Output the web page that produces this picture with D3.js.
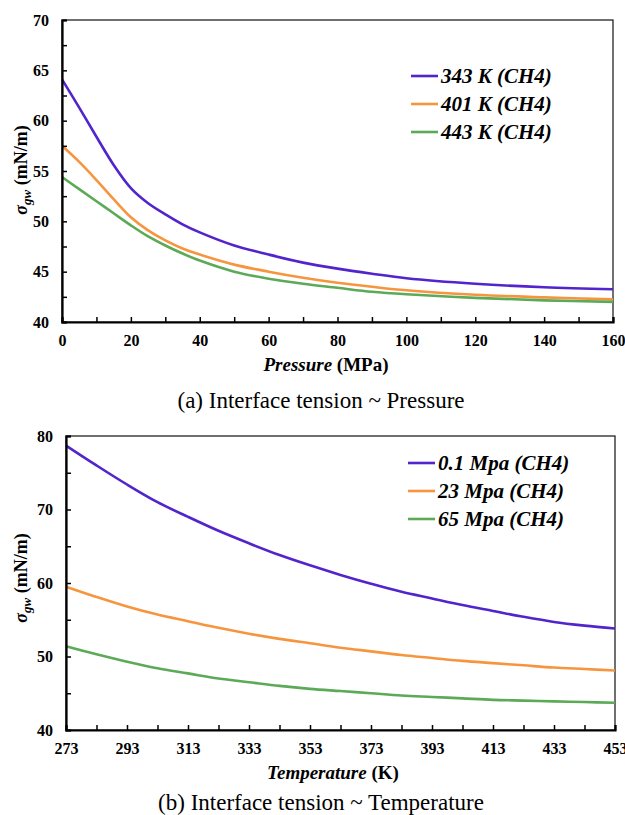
<!DOCTYPE html>
<html>
<head>
<meta charset="utf-8">
<script src="https://cdn.jsdelivr.net/npm/d3@7"></script>
<style>
body{margin:0;background:#fff;}
svg text{font-family:"Liberation Serif","Times New Roman",Times,"DejaVu Serif",serif;}
</style>
</head>
<body>
<svg id="fig" width="625" height="815"></svg>
<script>
// (a) sigma vs pressure
var pressure=[0,5,10,15,20,25,30,35,40,50,60,70,80,90,100,120,140,160];
var sig343=[64.1,61.3,58.4,55.6,53.3,51.8,50.7,49.7,48.9,47.6,46.7,45.9,45.3,44.8,44.35,43.8,43.45,43.25];
var sig401=[57.5,55.9,54.1,52.2,50.4,49.1,48.1,47.3,46.7,45.7,45.0,44.4,43.9,43.5,43.15,42.7,42.45,42.25];
var sig443=[54.4,53.2,52.0,50.8,49.6,48.5,47.6,46.8,46.1,45.0,44.3,43.8,43.4,43.0,42.75,42.4,42.15,42.0];
var seriesA=["343 K (CH4)","401 K (CH4)","443 K (CH4)"];

// (b) sigma vs temperature
var temperature=[273,283,293,303,313,323,333,343,353,363,373,383,393,403,413,423,433,443,453];
var sig01=[78.7,76.0,73.4,71.0,69.0,67.1,65.4,63.8,62.4,61.1,59.9,58.8,57.9,57.0,56.2,55.4,54.7,54.2,53.8];
var sig23=[59.5,58.1,56.8,55.7,54.8,53.9,53.1,52.4,51.8,51.2,50.7,50.2,49.8,49.4,49.1,48.8,48.5,48.3,48.1];
var sig65=[51.4,50.3,49.3,48.4,47.7,47.0,46.5,46.0,45.6,45.3,45.0,44.7,44.5,44.3,44.1,44.0,43.9,43.8,43.7];
var seriesB=["0.1 Mpa (CH4)","23 Mpa (CH4)","65 Mpa (CH4)"];

var colors=["#5224cc","#f7953f","#5caa57"];
var serif='"Liberation Serif","Times New Roman",Times,serif';

var svg=d3.select("#fig");

function drawChart(o){
	var x=d3.scaleLinear().domain(o.xDomain).range([o.left,o.right]);
	var y=d3.scaleLinear().domain(o.yDomain).range([o.bottom,o.top]);
	var g=svg.append("g");

	// frame
	g.append("rect")
	.attr("x",o.left).attr("y",o.top)
	.attr("width",o.right-o.left).attr("height",o.bottom-o.top)
	.attr("fill","none").attr("stroke","#111").attr("stroke-width",1.2);

	// curves
	o.ys.forEach(function(vals,i){
		var line=d3.line()
		.x(function(d,j){return x(o.xs[j]);})
		.y(function(d){return y(d);})
		.curve(d3.curveCatmullRom.alpha(0.5));
		g.append("path")
		.datum(vals)
		.attr("d",line)
		.attr("fill","none")
		.attr("stroke",colors[i])
		.attr("stroke-width",2.6);
	});

	var xAxis=d3.axisBottom(x)
	.tickValues(o.xTicks)
	.tickSize(-5)
	.tickPadding(13)
	.tickFormat(function(d){return o.xLabel(d)?d:"";});
	var ga=g.append("g").attr("transform","translate(0,"+o.bottom+")").call(xAxis);

	var yAxis=d3.axisLeft(y)
	.tickValues(o.yTicks)
	.tickSize(-5)
	.tickPadding(13)
	.tickFormat(function(d){return d%o.yStep==0?d:"";});
	var gb=g.append("g").attr("transform","translate("+o.left+",0)").call(yAxis);

	[ga,gb].forEach(function(a){
		a.attr("font-family",serif);
		a.select(".domain").attr("stroke","#000").attr("stroke-width",2.2);
		a.selectAll(".tick line").attr("stroke","#000").attr("stroke-width",1.5);
		a.selectAll("text").attr("font-size",16).attr("font-weight","bold")
		.attr("fill","#000");
	});

	// y title
	var yt=g.append("text")
	.attr("transform","translate(27,"+o.yTitleY+") rotate(-90)")
	.attr("text-anchor","middle")
	.attr("font-size",18).attr("font-weight","bold");
	yt.append("tspan").attr("font-style","italic").text("σ");
	yt.append("tspan").attr("font-style","italic").attr("font-size",13).attr("dy",4).text("gw");
	yt.append("tspan").attr("dy",-4).text(" (mN/m)");

	// x title
	var xt=g.append("text")
	.attr("x",o.xTitleX).attr("y",o.xTitleY)
	.attr("text-anchor","middle")
	.attr("font-size",19).attr("font-weight","bold");
	xt.append("tspan").attr("font-style","italic").text(o.xName);
	xt.append("tspan").text(" "+o.xUnit);

	// caption
	g.append("text")
	.attr("x",o.capX).attr("y",o.capY)
	.attr("text-anchor","middle")
	.attr("font-size",23)
	.text(o.caption);

	// legend
	o.names.forEach(function(n,i){
		var ly=o.legY+i*28;
		g.append("line")
		.attr("x1",o.legX).attr("x2",o.legX+27)
		.attr("y1",ly).attr("y2",ly)
		.attr("stroke",colors[i]).attr("stroke-width",2.6);
		g.append("text")
		.attr("x",o.legX+30).attr("y",ly+7)
		.attr("font-size",21).attr("font-weight","bold").attr("font-style","italic")
		.text(n);
	});
}

drawChart({
	xs:pressure,ys:[sig343,sig401,sig443],names:seriesA,
	xDomain:[0,160],yDomain:[40,70],
	left:62,right:613,top:20,bottom:322,
	xTicks:d3.range(0,161,10),xLabel:function(d){return d%20==0;},
	yTicks:d3.range(40,70.1,2.5),yStep:5,
	yTitleY:170,xName:"Pressure",xUnit:"(MPa)",xTitleX:326,xTitleY:371,
	caption:"(a) Interface tension ~ Pressure",capX:321,capY:408,
	legX:411,legY:76
});

drawChart({
	xs:temperature,ys:[sig01,sig23,sig65],names:seriesB,
	xDomain:[273,453],yDomain:[40,80],
	left:66,right:615,top:436,bottom:730,
	xTicks:d3.range(273,454,10),xLabel:function(d){return (d-273)%20==0;},
	yTicks:d3.range(40,80.1,5),yStep:10,
	yTitleY:578,xName:"Temperature",xUnit:"(K)",xTitleX:333,xTitleY:779,
	caption:"(b) Interface tension ~ Temperature",capX:321,capY:810,
	legX:408,legY:463
});
</script>
</body>
</html>
